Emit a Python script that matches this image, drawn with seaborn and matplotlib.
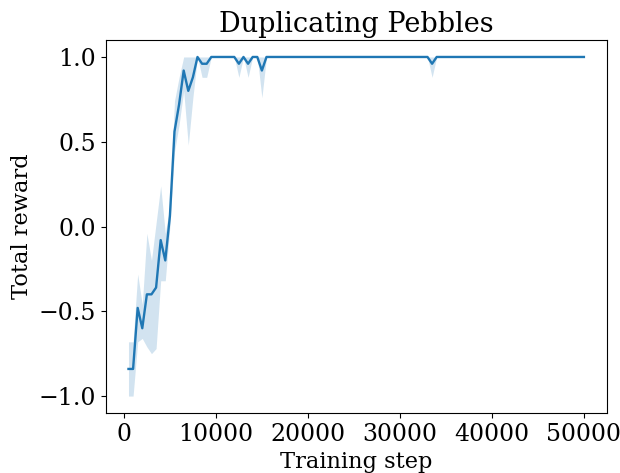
import numpy as np
import pandas as pd
import matplotlib
matplotlib.use("Agg")
import matplotlib.pyplot as plt
import seaborn as sns

# Training steps (every 500 steps)
steps = list(range(500, 50001, 500))

# Mean reward for the early part of training (500 .. 9000)
early_mean = [-0.84, -0.84, -0.48, -0.60, -0.40, -0.40, -0.36, -0.08, -0.20, 0.06,
              0.56, 0.72, 0.92, 0.80, 0.88, 1.00, 0.96, 0.96]
early_low = [-1.00, -1.00, -0.68, -0.66, -0.71, -0.75, -0.72, -0.32, -0.32, 0.00,
             0.44, 0.60, 0.80, 0.48, 0.76, 1.00, 0.88, 0.88]
early_high = [-0.68, -0.68, -0.28, -0.46, -0.04, -0.20, 0.02, 0.24, -0.04, 0.12,
              0.74, 0.88, 1.00, 1.00, 1.00, 1.00, 1.00, 1.00]

# Later dips: step -> (mean, low, high)
dip_steps = [12500, 13500, 15000, 33500]
dip_mean = [0.96, 0.96, 0.92, 0.96]
dip_low = [0.88, 0.88, 0.76, 0.88]
dip_high = [1.00, 1.00, 1.00, 1.00]

mean = []
low = []
high = []
for i, s in enumerate(steps):
    if i < len(early_mean):
        mean.append(early_mean[i]); low.append(early_low[i]); high.append(early_high[i])
    elif s in dip_steps:
        j = dip_steps.index(s)
        mean.append(dip_mean[j]); low.append(dip_low[j]); high.append(dip_high[j])
    else:
        mean.append(1.0); low.append(1.0); high.append(1.0)

df = pd.DataFrame({"step": steps, "reward": mean, "low": low, "high": high})

plt.rcParams["font.family"] = ["DejaVu Serif"]
plt.rcParams["font.size"] = 17

fig, ax = plt.subplots(figsize=(6.2, 4.73), dpi=100)
color = "#1f77b4"
sns.lineplot(data=df, x="step", y="reward", ax=ax, color=color, linewidth=1.7, errorbar=None)
ax.fill_between(df["step"], df["low"], df["high"], color=color, alpha=0.2, linewidth=0)

ax.set_title("Duplicating Pebbles", fontsize=19.5)
ax.set_xlabel("Training step", fontsize=16.2)
ax.set_ylabel("Total reward", fontsize=16.2)
ax.tick_params(labelsize=17)
ax.set_xticks([0, 10000, 20000, 30000, 40000, 50000])
ax.set_yticks([-1.0, -0.5, 0.0, 0.5, 1.0])

fig.subplots_adjust(left=0.1705, right=0.9785, top=0.9154, bottom=0.1268)
fig.savefig("out.png", dpi=100)
